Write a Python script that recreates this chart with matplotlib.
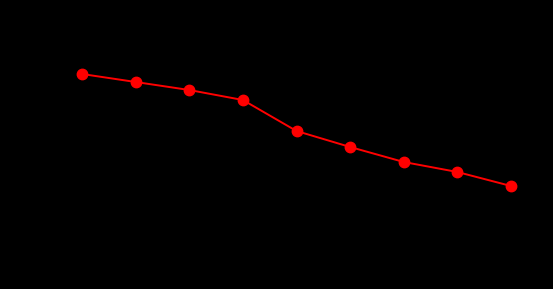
import numpy as np
import matplotlib
matplotlib.use('Agg')
import matplotlib.pyplot as plt

# valores
x = np.arange(1, 10)
y = np.array([215, 207, 199, 189, 158, 142, 127, 117, 103])

fig = plt.figure(figsize=(5.53, 2.89), dpi=100, facecolor='black')
ax = fig.add_axes([0, 0, 1, 1])
ax.set_facecolor('black')
ax.plot(x, y, color='red', lw=1.4, marker='o', ms=7.5, mec='red', mfc='red')
ax.set_xlim(-0.529, 9.783)
ax.set_ylim(0, 289)
ax.axis('off')
fig.savefig('out.png', dpi=100, facecolor='black')
plt.close()
